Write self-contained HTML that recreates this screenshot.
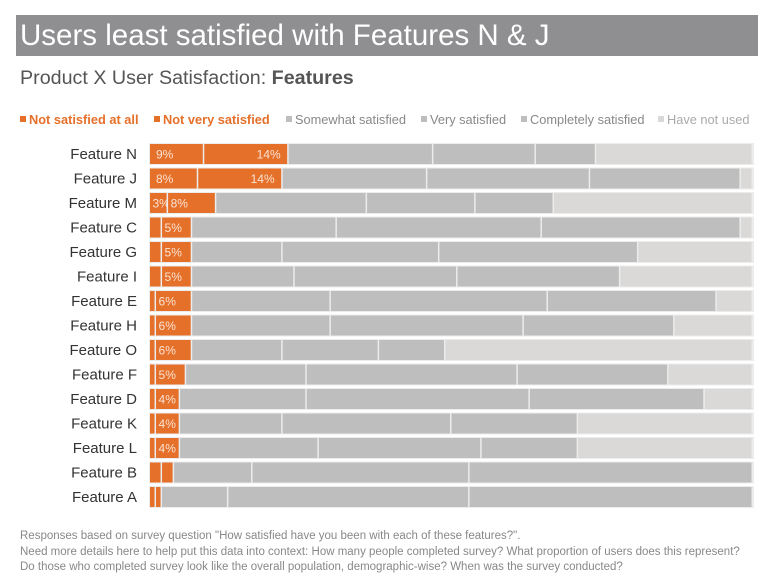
<!DOCTYPE html>
<html><head><meta charset="utf-8"><style>
body{margin:0;width:772px;height:586px;background:#fff;font-family:"Liberation Sans",sans-serif;overflow:hidden;position:relative}
.t{position:absolute;white-space:nowrap}
</style></head><body>
<div class="t" style="left:16px;top:15px;width:742px;height:41px;background:#8f8f91;color:#fff;font-size:29.5px;line-height:41px;padding-left:4px;box-sizing:border-box">Users least satisfied with Features N &amp; J</div>
<div class="t" style="left:20px;top:67px;font-size:19.7px;color:#555">Product X User Satisfaction: <b>Features</b></div>
<div id="legend"></div>
<svg id="chart" width="772" height="586" style="position:absolute;left:0;top:0"></svg>
<div class="t" style="left:20px;top:529px;font-size:11.5px;color:#888;line-height:15.5px">Responses based on survey question "How satisfied have you been with each of these features?".<br>Need more details here to help put this data into context: How many people completed survey? What proportion of users does this represent?<br>Do those who completed survey look like the overall population, demographic-wise? When was the survey conducted?</div>
<script>
const categories=["Feature N","Feature J","Feature M","Feature C","Feature G","Feature I","Feature E","Feature H","Feature O","Feature F","Feature D","Feature K","Feature L","Feature B","Feature A"];
const notAtAll=[9,8,3,2,2,2,1,1,1,1,1,1,1,2,1];
const notVery=[14,14,8,5,5,5,6,6,6,5,4,4,4,2,1];
const somewhat=[24,24,25,24,15,17,23,23,15,20,21,17,23,13,11];
const very=[17,27,18,34,26,27,36,32,16,35,37,28,27,36,40];
const completely=[10,25,13,33,33,27,28,25,11,25,29,21,16,47,47];
const notUsed=[26,2,33,2,19,22,6,13,51,14,8,29,29,0,0];
const seriesNames=["Not satisfied at all","Not very satisfied","Somewhat satisfied","Very satisfied","Completely satisfied","Have not used"];
const series=[notAtAll,notVery,somewhat,very,completely,notUsed];
const colors=["#e5702a","#e5702a","#bebebe","#bebebe","#bebebe","#dad9d7"];
const x0=150,x1=753,yTop=154,step=24.5,bh=20;
const NS="http://www.w3.org/2000/svg";
const svg=document.getElementById('chart');
function xs(p,total){return x0+(p/total)*(x1-x0);}
function yc(i){return yTop+i*step;}
categories.forEach((c,i)=>{
  const lab=document.createElementNS(NS,'text');
  
  
  lab.setAttribute('x',137);lab.setAttribute('y',yc(i)+5);lab.setAttribute('text-anchor','end');
  lab.setAttribute('font-size','15');lab.setAttribute('fill','#333');lab.textContent=c;svg.appendChild(lab);
  const bg=document.createElementNS(NS,'rect');
  
  
  bg.setAttribute('x',x0-1);bg.setAttribute('y',yc(i)-bh/2-1);bg.setAttribute('width',x1-x0+2);bg.setAttribute('height',bh+2);bg.setAttribute('fill','#ececec');svg.appendChild(bg);
  let total=0;series.forEach(s=>total+=s[i]);
  let acc=0;
  series.forEach((s,k)=>{
    const v=s[i];if(v<=0)return;
    const a=xs(acc,total),b=xs(acc+v,total);acc+=v;
    const r=document.createElementNS(NS,'rect');
    
    
    r.setAttribute('x',a);r.setAttribute('y',yc(i)-bh/2);r.setAttribute('width',Math.max(0,b-a-1.5));r.setAttribute('height',bh);r.setAttribute('fill',colors[k]);svg.appendChild(r);
    if(k<2&&v>=3){
      const t=document.createElementNS(NS,'text');
      
      
      const big=(k===1&&v>=10);
      t.setAttribute('x',big?b-8:(k===0&&v>=5?a+6:a+2.5));t.setAttribute('y',yc(i)+4.5);
      t.setAttribute('text-anchor',big?'end':'start');
      t.setAttribute('font-size','12');t.setAttribute('fill','#fbe3d3');t.textContent=v+'%';svg.appendChild(t);
    }
  });
});
const legX=[20,154,286,421,521,658];
const legC=["#e5702a","#e5702a","#bebebe","#bebebe","#bebebe","#dad9d7"];
const legT=["#e5702a","#e5702a","#888","#888","#888","#aaa"];
seriesNames.forEach((n,k)=>{
  const sq=document.createElementNS(NS,'rect');
  
  
  sq.setAttribute('x',legX[k]);sq.setAttribute('y',116);sq.setAttribute('width',6);sq.setAttribute('height',6);sq.setAttribute('fill',legC[k]);svg.appendChild(sq);
  const t=document.createElementNS(NS,'text');
  
  
  t.setAttribute('x',legX[k]+9);t.setAttribute('y',124);t.setAttribute('font-size','12.8');t.setAttribute('fill',legT[k]);
  if(k<2)t.setAttribute('font-weight','bold');
  t.textContent=n;svg.appendChild(t);
});
</script>
</body></html>
